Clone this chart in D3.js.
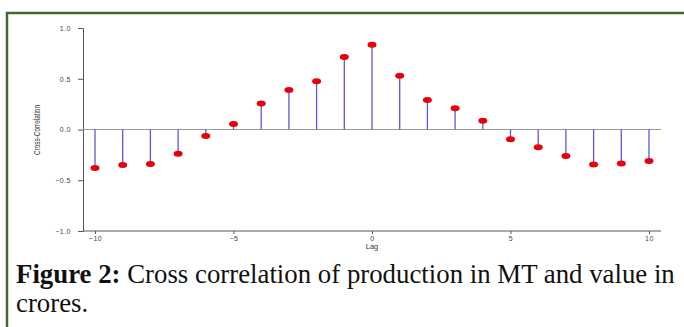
<!DOCTYPE html>
<html>
<head>
<meta charset="utf-8">
<script src="https://cdn.jsdelivr.net/npm/d3@7"></script>
<style>
  body { margin: 0; background: #fff; }
  svg { display: block; }
</style>
</head>
<body>
<script>
// lag values and cross-correlation
var lags = [-10, -9, -8, -7, -6, -5, -4, -3, -2, -1, 0, 1, 2, 3, 4, 5, 6, 7, 8, 9, 10];
var ccf = [-0.38, -0.35, -0.34, -0.24, -0.065, 0.055, 0.255, 0.39, 0.475, 0.715, 0.835,
           0.53, 0.29, 0.21, 0.085, -0.095, -0.175, -0.26, -0.345, -0.335, -0.31];
var yTicks = [-1.0, -0.5, 0.0, 0.5, 1.0];
var xTicks = [-10, -5, 0, 5, 10];

var W = 684, H = 327;
var svg = d3.select("body").append("svg")
            .attr("width", W)
            .attr("height", H);

// green frame (top + left visible)
svg.append("rect")
   .attr("x", 7).attr("y", 13)
   .attr("width", 700).attr("height", 400)
   .attr("fill", "none")
   .attr("stroke", "#3d6b2e")
   .attr("stroke-width", 2.5);

var x = d3.scaleLinear().domain([-10, 10]).range([95, 649]);
var y = d3.scaleLinear().domain([-1, 1]).range([231, 28]);

var g = svg.append("g");

// y axis
var yAxis = g.append("g")
   .attr("transform", "translate(83,0)")
   .call(d3.axisLeft(y).tickValues(yTicks).tickSize(5).tickFormat(d3.format(".1f")));
// x axis
var xAxis = g.append("g")
   .attr("transform", "translate(0,231)")
   .call(d3.axisBottom(x).tickValues(xTicks).tickSize(3).tickFormat(d3.format("d")));

xAxis.select(".domain").attr("d", "M83,0H661");
[yAxis, xAxis].forEach(function(a){
	a.selectAll("path, line").attr("stroke", "#555").attr("stroke-width", 1);
	a.selectAll("text")
	 .attr("fill", "#444")
	 .style("font-family", "Liberation Sans, Arial, sans-serif")
	 .style("font-size", "7px")
	 .style("letter-spacing", "0.5px");
});
yAxis.selectAll("text").attr("x", -12);
xAxis.selectAll("text").attr("y", 5);

// zero line
g.append("line")
 .attr("x1", 83).attr("x2", 661)
 .attr("y1", y(0)).attr("y2", y(0))
 .attr("stroke", "#999").attr("stroke-width", 1.2);

// stems
g.selectAll("line.stem")
 .data(ccf)
 .enter()
 .append("line")
 .attr("class", "stem")
 .attr("x1", function(d, i){ return x(lags[i]); })
 .attr("x2", function(d, i){ return x(lags[i]); })
 .attr("y1", y(0))
 .attr("y2", function(d){ return y(d); })
 .attr("stroke", "#5a5ad8")
 .attr("stroke-width", 1.3);

// markers
g.selectAll("ellipse.pt")
 .data(ccf)
 .enter()
 .append("ellipse")
 .attr("class", "pt")
 .attr("cx", function(d, i){ return x(lags[i]); })
 .attr("cy", function(d){ return y(d); })
 .attr("rx", 4.5)
 .attr("ry", 3)
 .attr("fill", "#e8000b");

// axis titles
g.append("text")
 .text("Lag")
 .attr("x", 372).attr("y", 249)
 .attr("text-anchor", "middle")
 .attr("fill", "#333")
 .style("font-family", "Liberation Sans, Arial, sans-serif")
 .style("font-size", "7.5px");

g.append("text")
 .text("Cross-Correlation")
 .attr("transform", "translate(40,130) rotate(-90) scale(0.75,1)")
 .attr("text-anchor", "middle")
 .attr("fill", "#333")
 .style("font-family", "Liberation Sans, Arial, sans-serif")
 .style("font-size", "8.5px");

// caption
var cap = svg.append("text")
   .attr("x", 16).attr("y", 283)
   .attr("fill", "#111")
   .style("font-family", "Liberation Serif, serif")
   .style("font-size", "23px");
cap.append("tspan").attr("font-weight", "bold").text("Figure 2:");
cap.append("tspan").text(" Cross correlation of production in MT and value in");

var len = cap.node().getComputedTextLength();
cap.style("font-size", (23 * 659 / len) + "px");

svg.append("text")
   .attr("x", 16).attr("y", 312)
   .attr("fill", "#111")
   .style("font-family", "Liberation Serif, serif")
   .style("font-size", (23 * 659 / len) + "px")
   .text("crores.");
</script>
</body>
</html>
